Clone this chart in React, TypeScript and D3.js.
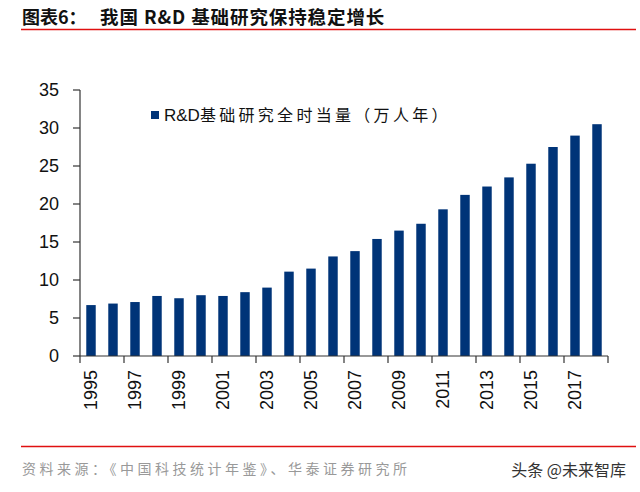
import React from "react";
import * as d3 from "d3";

const years = [1995,1996,1997,1998,1999,2000,2001,2002,2003,2004,2005,2006,2007,2008,2009,2010,2011,2012,2013,2014,2015,2016,2017,2018];
const values = [6.7,6.9,7.1,7.9,7.6,8.0,7.9,8.4,9.0,11.1,11.5,13.1,13.8,15.4,16.5,17.4,19.3,21.2,22.3,23.5,25.3,27.5,29.0,30.5];
const yTicks = [0,5,10,15,20,25,30,35];
const seriesLatin = "R&D";
const seriesCjk = "基础研究全时当量（万人年）";
const titleLead = "图表6：";
const titleMain = "我国 R&D 基础研究保持稳定增长";
const sourceText = "资料来源：《中国科技统计年鉴》、华泰证券研究所";
const watermark = "头条 @未来智库";

const W = 640, H = 492;
const left = 80, right = 608, top = 90, bottom = 356;

export default function App() {
  const x = d3.scaleBand<number>().domain(years).range([left, right]).paddingInner(0.57).paddingOuter(0.285);
  const y = d3.scaleLinear().domain([0, 35]).range([bottom, top]);
  const step = (right - left) / years.length;
  const boundaries = d3.range(0, years.length + 1, 2).map(i => left + i * step);
  const sans = "Arial, 'Liberation Sans', sans-serif";
  const cjk = "'Noto Sans CJK SC', sans-serif";
  return (
    <svg width={W} height={H} style={{ position: "absolute", left: 0, top: 0, background: "#fff" }}>
      <text x={22} y={24} fontFamily={cjk} fontWeight="bold" fontSize={18} fill="#111">{titleLead}</text>
      <text x={100} y={24} fontFamily={cjk} fontWeight="bold" fontSize={18.5} letterSpacing={0.9} fill="#111">{titleMain}</text>
      <line x1={21} x2={636} y1={29.5} y2={29.5} stroke="#e01010" strokeWidth={1.5} />
      {years.map((yr, i) => (
        <rect key={yr} x={x(yr)} y={y(values[i])} width={x.bandwidth()} height={bottom - y(values[i])} fill="#003478" />
      ))}
      <line x1={left} x2={left} y1={top} y2={bottom} stroke="#333" strokeWidth={1.2} />
      <line x1={left} x2={right} y1={bottom} y2={bottom} stroke="#333" strokeWidth={1.2} />
      {yTicks.map(t => (
        <g key={t}>
          <line x1={left - 7} x2={left} y1={y(t)} y2={y(t)} stroke="#333" strokeWidth={1.2} />
          <text x={59} y={y(t)} dy="0.35em" textAnchor="end" fontFamily={sans} fontSize={18} fill="#111">{t}</text>
        </g>
      ))}
      {boundaries.map((b, i) => (
        <line key={i} x1={b} x2={b} y1={bottom} y2={bottom + 7} stroke="#333" strokeWidth={1.2} />
      ))}
      {years.filter((_, i) => i % 2 === 0).map(yr => {
        const cx = (x(yr) as number) + x.bandwidth() / 2;
        return (
          <text key={yr} transform={`translate(${cx + 6},370) rotate(-90)`} textAnchor="end" fontFamily={sans} fontSize={18} fill="#111">{yr}</text>
        );
      })}
      <rect x={151} y={111} width={8} height={8} fill="#003478" />
      <text x={164} y={121} fontSize={16} fill="#111">
        <tspan fontFamily={sans} fontSize={17}>{seriesLatin}</tspan>
        <tspan fontFamily={cjk} letterSpacing={3.3}>{seriesCjk}</tspan>
      </text>
      <line x1={21} x2={636} y1={446.5} y2={446.5} stroke="#e01010" strokeWidth={1.5} />
      <text x={22} y={474} fontFamily={cjk} fontSize={14} letterSpacing={3.5} fill="#999">{sourceText}</text>
      <text x={626} y={476} textAnchor="end" fontFamily={cjk} fontSize={16} fill="#333">{watermark}</text>
    </svg>
  );
}
